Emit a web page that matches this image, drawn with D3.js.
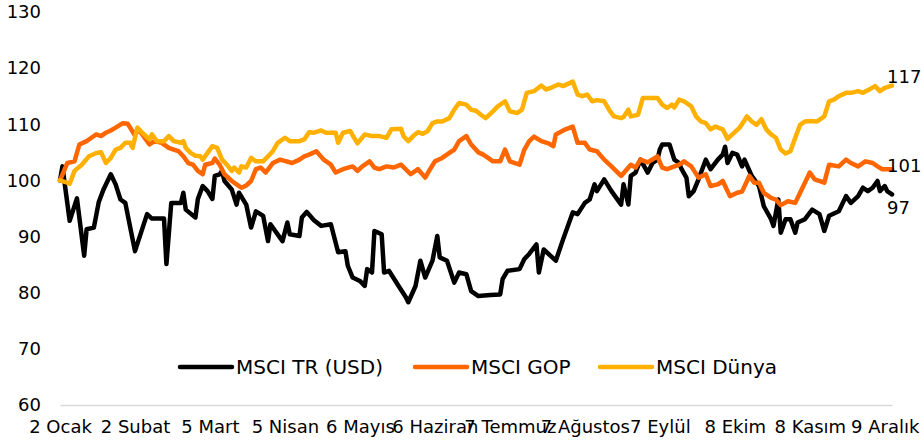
<!DOCTYPE html>
<html><head><meta charset="utf-8">
<script src="https://cdn.jsdelivr.net/npm/d3@7"></script>
<style>
html,body{margin:0;padding:0;background:#fff;}
svg{display:block;font-family:"DejaVu Sans",sans-serif;}
</style></head>
<body><svg id="c" width="924" height="445"></svg>
<script>
// x axis ticks: days since 2 Ocak
const tickDays = [0,31,62,93,124,155,186,217,248,279,310,341];
const tickLabels = ["2 Ocak","2 Subat","5 Mart","5 Nisan","6 Mayıs","6 Haziran","7 Temmuz","7 Ağustos","7 Eylül","8 Ekim","8 Kasım","9 Aralık"];
const yTicks = [60,70,80,90,100,110,120,130];

// MSCI TR (USD)
const trDays = [0,1,4,7,10,11,14,16,18,21,23,25,27,31,36,38,43,44,46,50,51,52,56,57,59,61,63,64,66,67,68,71,73,74,77,79,81,84,86,87,92,94,95,99,100,102,105,108,112,115,118,119,121,124,126,127,129,130,133,134,136,140,143,144,147,149,151,154,156,157,160,163,165,168,170,173,178,182,183,185,190,192,194,197,198,200,205,208,212,214,217,219,221,222,225,228,232,233,235,236,238,240,243,245,247,248,249,252,254,256,257,259,260,262,264,267,269,272,274,275,276,278,280,282,283,286,289,291,294,295,297,298,300,302,304,305,308,311,314,316,318,322,325,327,330,332,334,336,338,339,341,342,344];
const trVals = [100.0,102.5,92.8,96.8,86.6,91.3,91.6,96.1,98.4,101.1,99.3,96.6,96.0,87.4,94.0,93.2,93.2,85.1,96.0,96.0,97.8,94.8,93.4,96.7,99.0,98.1,96.7,100.8,101.1,101.7,99.9,98.4,95.7,97.8,95.7,91.6,94.5,93.7,89.2,92.2,89.2,92.5,90.4,90.1,93.4,94.4,92.9,91.9,92.2,87.2,87.4,84.8,82.7,82.1,81.2,84.2,83.6,91.0,90.4,83.6,83.9,81.2,79.2,78.3,81.2,85.7,82.7,85.7,90.1,86.3,85.7,81.8,83.6,83.3,80.3,79.4,79.6,79.7,82.4,83.9,84.2,86.0,86.9,88.6,83.6,87.7,85.7,89.5,94.3,94.0,96.0,96.6,99.3,98.1,100.2,98.1,95.7,99.3,95.7,100.8,101.4,103.7,101.4,103.1,103.7,105.5,106.4,106.4,103.7,103.1,102.0,100.5,97.2,98.1,100.2,103.7,102.0,103.7,104.6,106.0,103.1,104.9,104.6,102.5,103.7,100.8,99.0,95.4,93.1,91.9,96.6,90.7,93.1,93.1,90.7,92.5,93.1,94.8,94.0,91.0,93.7,94.5,97.2,96.0,97.2,98.7,98.1,98.7,99.9,98.1,99.0,98.1,97.5];

// MSCI GOP
const gopDays = [0,3,6,8,11,13,15,17,19,21,23,26,28,29,31,32,34,37,39,42,45,47,49,51,53,55,57,59,60,63,64,66,68,71,73,75,77,79,81,83,85,88,91,96,99,101,103,106,109,112,114,117,121,123,125,128,130,132,135,138,141,145,148,151,153,155,158,161,163,165,168,170,173,175,177,179,182,184,186,190,192,194,196,199,202,204,205,209,212,214,217,219,222,225,228,232,236,238,240,243,247,249,251,256,258,261,264,267,269,272,274,277,280,282,285,287,289,291,294,296,298,301,304,306,308,310,312,316,318,322,325,327,330,333,336,338,340,344];
const gopVals = [100.0,103.1,103.4,106.4,107.0,107.6,108.2,107.9,108.5,108.9,109.4,110.2,110.1,109.4,108.0,109.2,108.2,106.4,107.0,106.7,105.8,105.5,105.2,104.3,103.1,102.8,101.7,101.1,102.8,103.1,103.9,102.8,101.1,99.9,99.3,98.7,99.1,99.9,102.0,102.3,101.4,103.1,103.7,103.1,103.7,104.3,104.6,105.2,103.7,102.8,101.4,102.0,102.5,101.7,102.5,103.4,102.3,102.0,102.5,102.3,102.8,101.1,102.0,100.5,102.0,103.4,104.0,104.9,105.5,107.0,107.9,106.4,105.0,104.6,104.0,103.4,103.4,105.5,103.4,102.8,105.5,107.0,107.8,107.0,106.6,106.1,108.2,109.1,109.6,106.7,106.7,105.5,105.2,103.7,102.5,100.8,102.8,102.3,103.7,103.2,104.3,102.3,102.0,102.8,103.4,102.5,100.5,101.1,99.0,99.3,99.9,97.2,97.8,98.0,100.8,99.6,99.6,97.8,96.9,96.6,95.6,96.3,96.0,97.8,99.6,101.4,100.2,99.6,102.8,102.5,103.7,103.1,102.5,103.4,103.1,102.5,102.0,102.0];

// MSCI Dünya
const dunDays = [0,3,4,6,9,12,15,17,19,21,23,25,27,29,30,32,34,37,38,40,43,45,47,50,51,52,54,56,58,59,61,63,65,67,69,71,72,74,75,77,79,81,84,88,90,93,95,99,101,103,105,108,110,114,115,117,120,122,123,126,129,132,135,137,141,142,144,146,148,150,152,154,156,158,161,163,165,168,170,172,174,176,179,181,184,186,189,191,193,196,199,201,203,206,208,212,214,216,218,220,222,225,227,229,232,233,235,236,239,241,245,247,249,251,253,254,256,258,261,263,265,267,269,271,274,276,278,281,284,286,288,290,292,294,296,298,300,302,304,306,308,310,313,316,318,320,322,325,327,330,332,335,337,339,341,344];
const dunVals = [100.0,99.6,99.4,101.7,102.8,104.3,104.9,105.0,103.1,104.0,105.5,105.8,106.7,106.7,105.8,109.4,108.5,107.3,108.2,107.0,107.0,107.9,107.0,106.7,107.0,105.8,104.9,104.4,104.3,103.7,104.9,106.1,105.8,103.7,102.8,101.7,102.3,101.4,102.5,102.3,104.0,103.4,103.4,105.2,106.7,107.6,107.0,107.0,107.3,108.6,108.5,108.9,108.5,108.5,106.7,108.5,108.8,107.3,106.6,108.2,107.9,107.9,107.6,109.1,109.2,107.9,107.0,107.9,108.6,108.3,108.8,110.2,110.5,110.5,111.1,112.6,113.8,113.5,112.6,112.4,111.7,111.1,112.3,113.2,114.1,112.3,112.0,112.6,115.6,115.9,116.9,116.2,116.5,117.1,116.8,117.6,115.3,115.0,115.3,114.1,114.3,114.1,112.6,111.4,111.1,111.3,112.6,111.4,111.7,114.7,114.7,114.7,113.5,112.9,113.5,113.0,114.4,114.1,113.2,111.4,110.5,110.2,109.1,109.6,109.1,107.4,108.2,109.4,111.4,110.5,109.9,110.9,109.1,108.2,107.6,105.5,104.8,105.2,107.6,109.9,110.5,110.6,110.5,111.4,114.1,114.4,115.0,115.6,115.6,115.9,115.6,116.3,116.8,115.9,116.5,116.9];

const seriesNames = ["MSCI TR (USD)","MSCI GOP","MSCI Dünya"];
const endLabels = ["97","101","117"];
const colors = ["#000000","#FF6600","#FFB000"];

const svg = d3.select("#c");
const x = d3.scaleLinear().domain([0,344]).range([60,892]);
const y = d3.scaleLinear().domain([60,130]).range([405,12]);

// y axis
const ya = svg.append("g").attr("transform","translate(41,0)")
  .call(d3.axisLeft(y).tickValues(yTicks).tickSize(0).tickPadding(0));
ya.select(".domain").remove();
ya.selectAll("text").attr("font-size",18).attr("font-family","DejaVu Sans").attr("fill","#000");

// x axis
const xa = svg.append("g").attr("transform","translate(0,405)")
  .call(d3.axisBottom(x).tickValues(tickDays).tickFormat((d,i)=>tickLabels[i]).tickSize(0).tickPadding(15));
xa.select(".domain").attr("stroke","#d9d9d9").attr("stroke-width",1.5);
xa.selectAll("text").attr("font-size",18).attr("font-family","DejaVu Sans").attr("fill","#000");

const data = [
  trDays.map((d,i)=>[d,trVals[i]]),
  gopDays.map((d,i)=>[d,gopVals[i]]),
  dunDays.map((d,i)=>[d,dunVals[i]])
];
const line = d3.line().x(d=>x(d[0])).y(d=>y(d[1]));
data.forEach((s,i)=>{
  svg.append("path").datum(s).attr("d",line).attr("fill","none")
    .attr("stroke",colors[i]).attr("stroke-width",4.5).attr("stroke-linejoin","round").attr("stroke-linecap","round");
});

// end labels
const endOffsets = [20, 3, -3];
data.forEach((s,i)=>{
  const last = s[s.length-1];
  svg.append("text").attr("x",x(last[0])-5).attr("y",y(last[1])+endOffsets[i])
    .attr("font-size",18).attr("fill","#000").text(endLabels[i]);
});

// legend
const legX = [180,415,600];
seriesNames.forEach((n,i)=>{
  svg.append("line").attr("x1",legX[i]).attr("x2",legX[i]+52).attr("y1",367).attr("y2",367)
    .attr("stroke",colors[i]).attr("stroke-width",4.5).attr("stroke-linecap","round");
  svg.append("text").attr("x",legX[i]+56).attr("y",374).attr("font-size",20).attr("fill","#000").text(n);
});
</script></body></html>
